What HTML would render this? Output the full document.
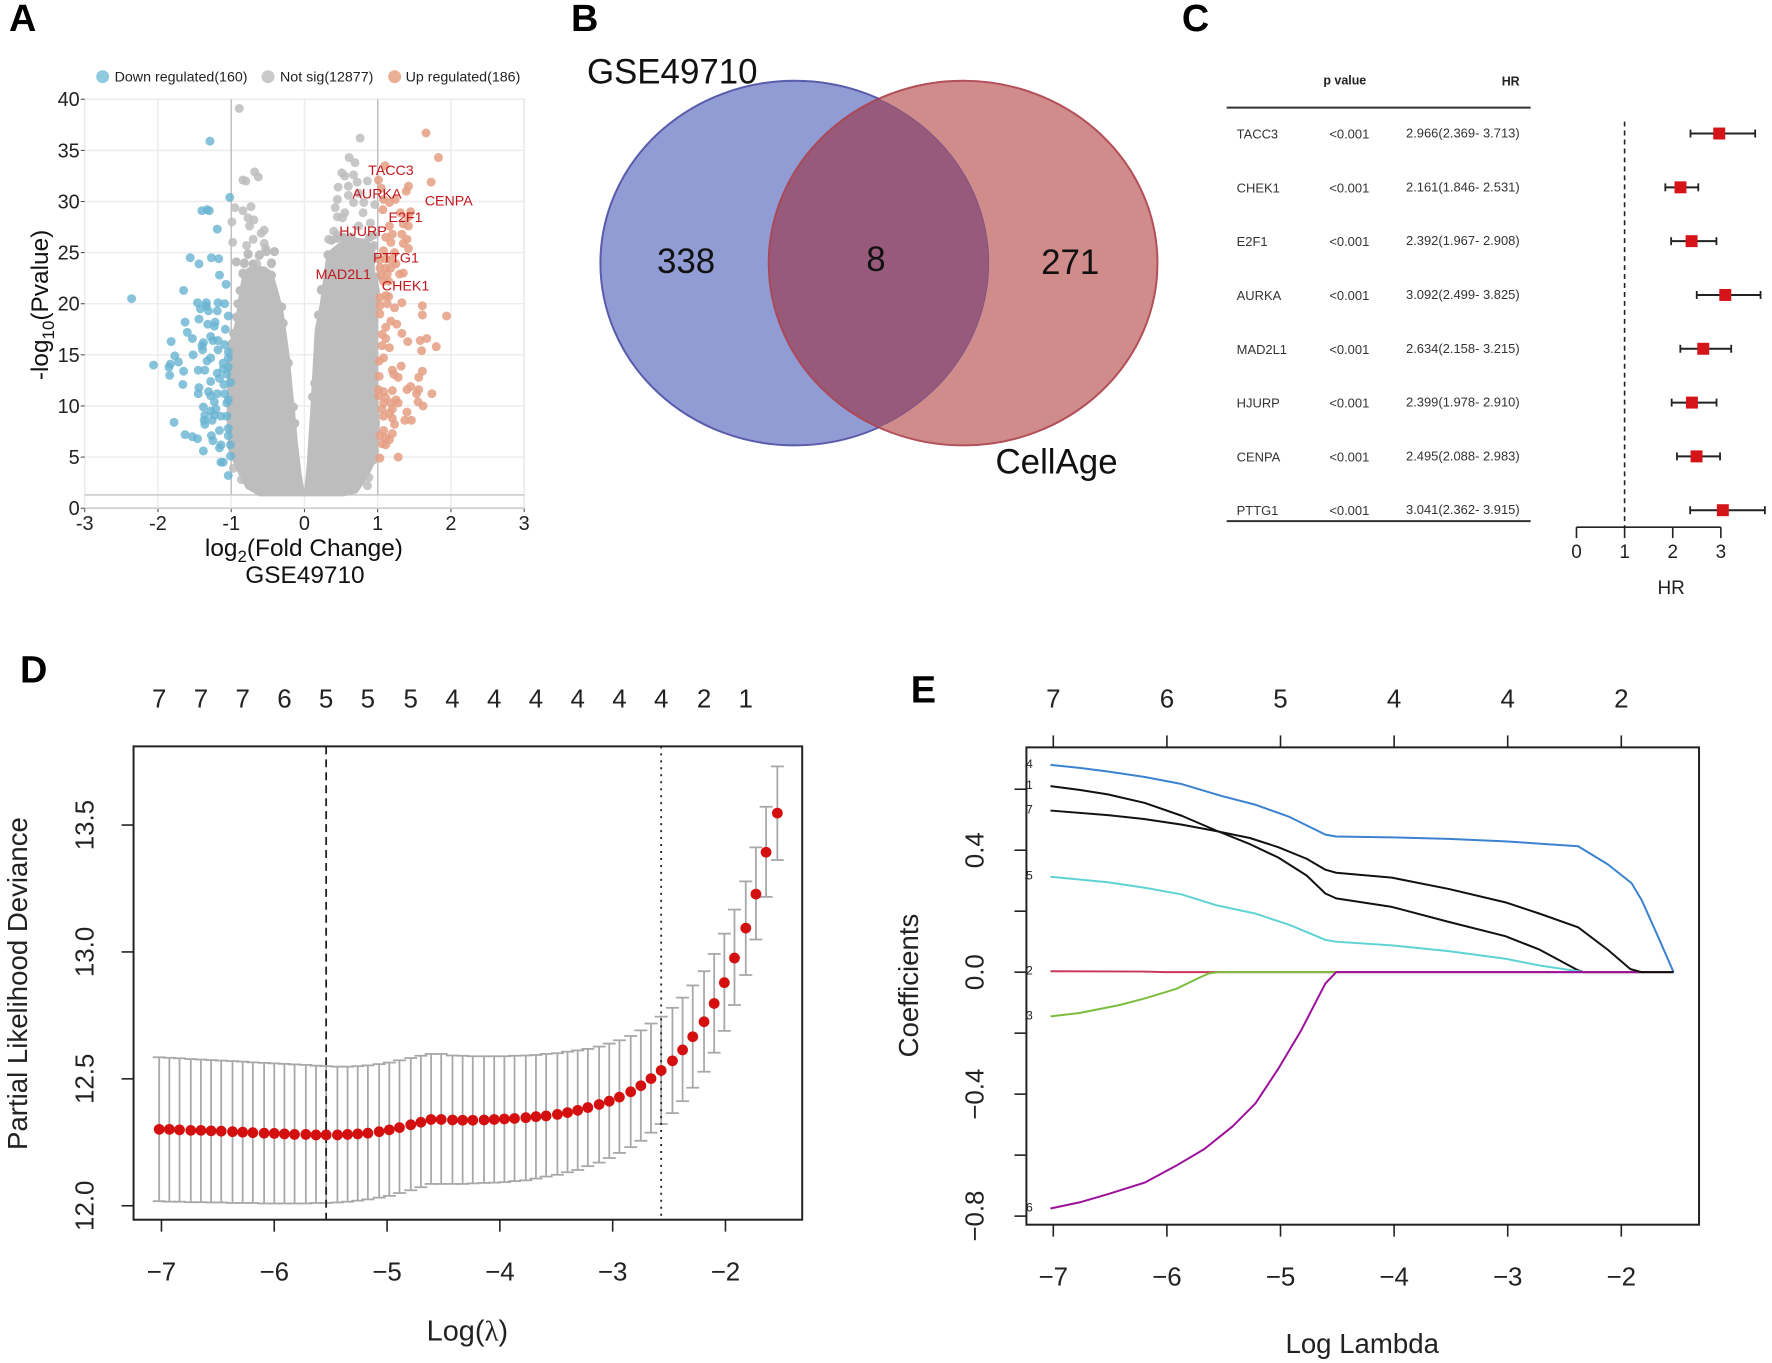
<!DOCTYPE html>
<html lang="en">
<head>
<meta charset="utf-8">
<title>Senescence gene figure</title>
<style>
html,body{margin:0;padding:0;background:#fff;width:1772px;height:1363px;overflow:hidden}
svg{display:block;font-family:"Liberation Sans",sans-serif}
</style>
</head>
<body>
<svg id="fig" xmlns="http://www.w3.org/2000/svg" width="1772" height="1363" viewBox="0 0 1778.2 1367.8">
  <defs>
    <clipPath id="leftClip"><ellipse cx="797.5" cy="264" rx="195" ry="183"/></clipPath>
  </defs>
  <rect width="1800" height="1400" fill="#fff"/>

  <g font-weight="bold" font-size="38" fill="#000">
    <text x="9" y="31">A</text>
    <text x="573" y="31">B</text>
    <text x="1186" y="31">C</text>
    <text x="20" y="685">D</text>
    <text x="914" y="705">E</text>
  </g>

  <g id="panelA">
    <circle cx="103" cy="77" r="6.5" fill="#8fcbe0"/>
    <text x="115" y="82" font-size="14.3" fill="#222">Down regulated(160)</text>
    <circle cx="269" cy="77" r="6.5" fill="#c9c9c9"/>
    <text x="281" y="82" font-size="14.3" fill="#222">Not sig(12877)</text>
    <circle cx="396" cy="77" r="6.5" fill="#eab096"/>
    <text x="407" y="82" font-size="14.3" fill="#222">Up regulated(186)</text>
    <text x="305" y="558" font-size="24.5" text-anchor="middle" fill="#111">log<tspan dy="6" font-size="17">2</tspan><tspan dy="-6">(Fold Change)</tspan></text>
    <text x="306" y="585" font-size="24.5" text-anchor="middle" fill="#111">GSE49710</text>
    <text transform="translate(48,306) rotate(-90)" font-size="24.5" text-anchor="middle" fill="#111">-log<tspan dy="6" font-size="17">10</tspan><tspan dy="-6">(Pvalue)</tspan></text>
  </g>

  <g id="panelB">
    <ellipse cx="797.5" cy="264" rx="195" ry="183" fill="#919cd4" stroke="#5563b8" stroke-width="2"/>
    <ellipse cx="966.5" cy="264" rx="195" ry="183" fill="#d08b8b" stroke="#b24f58" stroke-width="2"/>
    <ellipse cx="966.5" cy="264" rx="195" ry="183" fill="#985a7a" stroke="#a84a5c" stroke-width="2" clip-path="url(#leftClip)"/>
    <ellipse cx="797.5" cy="264" rx="195" ry="183" fill="none" stroke="#6a4a8c" stroke-width="1.5" stroke-opacity=".7" clip-path="url(#leftClip)"/>
    <text x="589" y="84" font-size="35" fill="#111">GSE49710</text>
    <text x="999" y="475" font-size="35" fill="#111">CellAge</text>
    <text x="688.5" y="274" font-size="35" text-anchor="middle" fill="#111">338</text>
    <text x="879" y="272" font-size="35" text-anchor="middle" fill="#111">8</text>
    <text x="1074" y="275" font-size="35" text-anchor="middle" fill="#111">271</text>
  </g>

  <g id="panelC">
    <text x="1328" y="85" font-size="12.5" font-weight="bold" fill="#222">p value</text>
    <text x="1525" y="86" font-size="12.5" font-weight="bold" text-anchor="end" fill="#222">HR</text>
    <line x1="1231" x2="1536" y1="108" y2="108" stroke="#333" stroke-width="2"/>
    <line x1="1231" x2="1536" y1="523" y2="523" stroke="#333" stroke-width="2"/>
    <text x="1677" y="596" font-size="19" text-anchor="middle" fill="#222">HR</text>
  </g>

  <g id="panelD">
    <rect x="134" y="749" width="671" height="475" fill="none" stroke="#222" stroke-width="2"/>
    <text x="469" y="1345" font-size="29" text-anchor="middle" fill="#222">Log(<tspan font-family="'Liberation Serif',serif">λ</tspan>)</text>
    <text transform="translate(27,987) rotate(-90)" font-size="27.7" text-anchor="middle" fill="#222">Partial Likelihood Deviance</text>
  </g>

  <g id="panelE">
    <rect x="1030" y="750" width="675" height="479" fill="none" stroke="#222" stroke-width="2"/>
    <text x="1367" y="1358" font-size="27.7" text-anchor="middle" fill="#222">Log Lambda</text>
    <text transform="translate(921,989) rotate(-90)" font-size="27.7" text-anchor="middle" fill="#222">Coefficients</text>
  </g>
</svg>

<script>
/* ---------- Panel A data ---------- */
const volcanoXTicks = [-3,-2,-1,0,1,2,3];
const volcanoYTicks = [0,5,10,15,20,25,30,35,40];
const pThreshold = 1.3;
const fcThresholds = [-1,1];
const downPoints = [[-2.36,20.5],[-2.06,14.0],[-1.82,16.3],[-1.85,13.8],[-1.83,14.1],[-1.84,13.0],[-1.77,14.9],[-1.72,14.3],[-1.65,13.4],[-1.66,12.1],[-1.65,21.3],[-1.63,18.2],[-1.60,17.2],[-1.53,16.6],[-1.56,24.5],[-1.44,23.9],[-1.27,24.5],[-1.17,24.4],[-1.16,22.8],[-1.07,21.9],[-1.29,35.9],[-1.02,30.4],[-1.40,29.1],[-1.33,29.2],[-1.30,29.1],[-1.19,27.3],[-1.46,20.1],[-1.34,20.1],[-1.34,19.8],[-1.18,20.1],[-1.09,20.0],[-1.42,19.5],[-1.31,19.3],[-1.19,19.3],[-1.44,18.5],[-1.32,18.0],[-1.22,18.2],[-1.23,17.8],[-1.04,18.8],[-1.08,17.5],[-1.28,16.8],[-1.25,16.4],[-1.18,16.4],[-1.38,16.2],[-1.40,15.9],[-1.39,15.5],[-1.52,15.0],[-1.09,16.0],[-1.04,15.3],[-1.18,15.5],[-1.28,14.7],[-1.33,14.4],[-1.36,13.5],[-1.45,13.5],[-1.04,14.7],[-1.11,14.2],[-1.04,13.8],[-1.11,13.6],[-1.19,13.2],[-1.06,13.1],[-1.16,12.7],[-1.28,12.4],[-1.10,12.1],[-1.01,12.3],[-1.44,11.8],[-1.45,11.2],[-1.31,11.4],[-1.28,11.0],[-1.19,11.2],[-1.09,11.2],[-1.04,10.6],[-1.23,10.4],[-1.06,10.3],[-1.38,9.9],[-1.28,9.5],[-1.21,9.7],[-1.36,9.1],[-1.23,9.1],[-1.37,8.6],[-1.36,8.2],[-1.26,8.6],[-1.14,9.0],[-1.06,9.0],[-1.78,8.4],[-1.63,7.2],[-1.53,7.0],[-1.46,6.8],[-1.27,7.1],[-1.25,6.6],[-1.38,5.6],[-1.16,7.6],[-1.04,7.8],[-1.04,7.1],[-1.14,6.2],[-1.16,5.9],[-1.01,6.2],[-1.01,5.1],[-1.14,4.5],[-1.11,4.5],[-1.04,3.2]];
const upPoints = [[1.66,36.7],[1.83,34.3],[1.73,31.9],[1.10,33.5],[1.01,32.1],[1.05,31.3],[1.42,31.5],[1.39,31.0],[1.16,29.9],[1.08,30.2],[1.24,30.2],[1.07,29.2],[1.45,29.0],[1.31,28.9],[1.42,28.5],[1.35,27.8],[1.42,27.6],[1.16,27.6],[1.20,26.8],[1.33,26.8],[1.40,26.3],[1.11,26.5],[1.18,26.0],[1.35,25.9],[1.42,25.4],[1.08,25.2],[1.23,25.0],[1.03,24.3],[1.11,24.4],[1.18,24.3],[1.25,23.9],[1.03,23.5],[1.11,23.5],[1.18,23.5],[1.05,22.8],[1.13,22.9],[1.30,22.9],[1.35,23.0],[1.08,22.2],[1.15,22.2],[1.03,20.6],[1.15,20.7],[1.11,20.8],[1.03,19.8],[1.13,20.0],[1.33,20.1],[1.23,19.6],[1.61,19.8],[1.61,18.9],[1.94,18.8],[1.03,19.0],[1.18,18.3],[1.26,18.0],[1.11,17.7],[1.06,17.0],[1.11,16.6],[1.33,17.1],[1.41,16.3],[1.58,16.4],[1.67,16.6],[1.80,15.8],[1.60,15.4],[1.06,15.9],[1.16,15.7],[1.08,14.7],[1.02,14.4],[1.32,13.9],[1.20,13.5],[1.61,13.4],[1.22,13.1],[1.02,12.9],[1.28,12.8],[1.56,12.8],[1.45,11.9],[1.40,11.6],[1.56,11.6],[1.74,11.2],[1.53,11.2],[1.01,11.6],[1.08,11.4],[1.20,11.5],[1.01,11.0],[1.11,10.8],[1.25,10.6],[1.55,10.4],[1.62,10.0],[1.08,10.3],[1.18,10.3],[1.28,10.3],[1.06,9.7],[1.20,9.7],[1.16,9.3],[1.40,9.4],[1.08,9.0],[1.20,8.8],[1.37,8.6],[1.46,8.6],[1.23,8.2],[1.08,7.6],[1.20,7.3],[1.03,7.1],[1.11,6.9],[1.16,6.7],[1.06,6.3],[1.11,6.2],[1.28,5.0],[1.03,4.9]];
const notSigPoints = [[-.89,39.1],[.76,36.2],[.61,34.3],[.69,33.8],[-.68,32.9],[-.63,32.4],[-.84,32.1],[-.80,32.0],[.51,32.8],[.55,32.5],[.67,32.6],[.86,32.0],[.46,31.4],[.60,31.5],[.72,31.9],[.60,30.6],[.74,30.8],[.45,30.2],[.81,29.9],[.96,29.7],[.67,29.9],[.42,29.4],[.55,28.9],[.80,28.9],[.45,28.5],[.52,28.4],[.90,27.9],[.74,27.6],[.40,27.1],[.45,26.7],[.33,26.3],[.95,25.7],[.94,26.7],[-.95,29.4],[-.84,29.1],[-.73,29.5],[-.99,28.0],[-.77,28.4],[-.69,28.2],[-.75,27.6],[-.55,27.2],[-.59,26.9],[-.70,26.3],[-.98,26.0],[-.79,25.7],[-.55,25.9],[-.53,25.4],[-.41,25.1],[-.77,24.8],[-.62,24.7],[-.93,24.1],[-.45,23.9],[-.82,23.9],[-.65,23.9],[-.84,22.9],[.23,21.3],[.20,18.8],[.88,3.0],[.86,2.2],[-.86,2.8],[-.97,3.9],[-.75,2.2],[.84,4.5],[.94,4.7],[.96,5.6]];
const notSigEdgePoints = [[-.93,24.1],[-.82,24.0],[-.70,23.9],[-.61,24.8],[-.52,25.1],[-.45,24.0],[-.41,25.1],[-.77,24.9],[-.57,23.1],[-.45,22.8],[-.84,23.0],[-.88,21.3],[-.91,20.0],[-.93,18.7],[-.97,17.1],[-.99,16.1],[-.31,19.7],[-.29,18.1],[-.22,14.2],[-.15,9.9],[-.13,8.3],[.23,21.4],[.19,18.9],[.14,12.2],[.11,10.9],[.32,24.8],[.37,26.2],[.44,26.4],[.53,26.5],[.64,26.5],[.89,26.5],[.94,25.6],[.96,24.6],[.98,22.6]];
/* dense not-significant cloud, envelope read in data units */
const cloudLeft = [[-.01,1.3],[-.61,1.3],[-.79,2.1],[-.93,4.1],[-1.02,5.7],[-1.04,8.3],[-1.04,11.6],[-1.03,15.5],[-.93,18.1],[-.88,20.7],[-.85,22.0],[-.82,23.1],[-.72,23.6],[-.54,23.5],[-.45,23.0],[-.38,21.3],[-.31,19.4],[-.27,17.4],[-.22,14.8],[-.18,11.6],[-.15,9.6],[-.11,6.4],[-.06,3.4]];
const cloudRight = [[.01,1.3],[.05,4.1],[.07,6.4],[.10,9.6],[.12,12.2],[.14,14.8],[.16,17.4],[.23,20.0],[.28,22.6],[.32,24.9],[.44,25.6],[.57,26.4],[.85,26.2],[.94,25.2],[.94,23.3],[1.01,21.3],[.98,18.1],[.98,11.6],[1.01,8.3],[.98,5.0],[.85,3.1],[.71,1.6],[.53,1.3]];
const geneLabels = ["TACC3","AURKA","CENPA","E2F1","HJURP","PTTG1","MAD2L1","CHEK1"];
const geneLabelFC = [1.18,.99,1.97,1.38,.80,1.25,.53,1.38];
const geneLabelP = [33.1,30.8,30.1,28.5,27.1,24.5,22.9,21.8];

/* ---------- Panel C data ---------- */
const forestGenes = ["TACC3","CHEK1","E2F1","AURKA","MAD2L1","HJURP","CENPA","PTTG1"];
const forestHR = [2.966,2.161,2.392,3.092,2.634,2.399,2.495,3.041];
const forestLow = [2.369,1.846,1.967,2.499,2.158,1.978,2.088,2.362];
const forestHigh = [3.713,2.531,2.908,3.825,3.215,2.910,2.983,3.915];
const forestPText = ["<0.001","<0.001","<0.001","<0.001","<0.001","<0.001","<0.001","<0.001"];
const forestTicks = [0,1,2,3];

/* ---------- Panel D data ---------- */
const logLambda = [-7.02,-6.93,-6.84,-6.74,-6.65,-6.56,-6.47,-6.37,-6.28,-6.19,-6.09,-6.00,-5.91,-5.82,-5.72,-5.63,-5.54,-5.44,-5.35,-5.26,-5.17,-5.07,-4.98,-4.89,-4.79,-4.70,-4.61,-4.52,-4.42,-4.33,-4.24,-4.14,-4.05,-3.96,-3.87,-3.77,-3.68,-3.59,-3.49,-3.40,-3.31,-3.22,-3.12,-3.03,-2.94,-2.84,-2.75,-2.66,-2.57,-2.47,-2.38,-2.29,-2.19,-2.10,-2.01,-1.92,-1.82,-1.73,-1.64,-1.54];
const cvMean = [12.301,12.301,12.299,12.297,12.297,12.295,12.294,12.292,12.290,12.288,12.286,12.285,12.283,12.281,12.281,12.279,12.279,12.279,12.281,12.283,12.286,12.292,12.299,12.308,12.319,12.329,12.340,12.340,12.338,12.337,12.337,12.338,12.340,12.342,12.344,12.347,12.351,12.354,12.360,12.367,12.376,12.387,12.399,12.412,12.428,12.449,12.473,12.501,12.533,12.571,12.614,12.666,12.725,12.797,12.879,12.976,13.094,13.228,13.393,13.547];
const cvUpper = [12.585,12.583,12.581,12.578,12.576,12.574,12.572,12.570,12.568,12.565,12.563,12.561,12.559,12.557,12.555,12.552,12.550,12.548,12.548,12.550,12.553,12.558,12.564,12.573,12.582,12.591,12.598,12.598,12.592,12.591,12.589,12.589,12.589,12.589,12.591,12.592,12.594,12.598,12.601,12.607,12.612,12.618,12.627,12.639,12.652,12.669,12.691,12.718,12.745,12.780,12.820,12.868,12.924,12.992,13.072,13.167,13.278,13.412,13.572,13.731];
const cvLower = [12.018,12.016,12.016,12.014,12.014,12.013,12.013,12.011,12.011,12.011,12.009,12.009,12.009,12.009,12.009,12.011,12.011,12.013,12.016,12.020,12.025,12.032,12.039,12.050,12.061,12.073,12.086,12.086,12.086,12.086,12.088,12.090,12.091,12.093,12.097,12.100,12.107,12.115,12.122,12.132,12.141,12.156,12.170,12.188,12.208,12.231,12.256,12.288,12.322,12.365,12.412,12.465,12.528,12.603,12.689,12.791,12.909,13.049,13.217,13.362];
const cvXTicks = [-7,-6,-5,-4,-3,-2];
const cvYTicks = [12.0,12.5,13.0,13.5];
const cvTopLambda = [-7.02,-6.65,-6.28,-5.91,-5.54,-5.17,-4.79,-4.42,-4.05,-3.68,-3.31,-2.94,-2.57,-2.19,-1.82];
const cvTopCounts = [7,7,7,6,5,5,5,4,4,4,4,4,4,2,1];
const lambdaMin = -5.54;
const lambdaOneSE = -2.57;

/* ---------- Panel E data ---------- */
const coefXTicks = [-7,-6,-5,-4,-3,-2];
const coefTopCounts = [7,6,5,4,4,2];
const coefYTicks = [0.6,0.4,0.2,0.0,-0.2,-0.4,-0.6,-0.8];
const coefYLabels = [null,"0.4",null,"0.0",null,"−0.4",null,"−0.8"];
const coef1X = [-7.025,-6.77,-6.52,-6.195,-5.87,-5.57,-5.27,-5.02,-4.77,-4.605,-4.51,-4.02,-3.52,-3.02,-2.72,-2.38,-2.33,-1.54];
const coef1Y = [.610,.598,.583,.555,.513,.465,.420,.376,.317,.258,.242,.214,.165,.118,.074,.006,0,0];
const coef2X = [-7.025,-6.195,-6.02,-1.54];
const coef2Y = [.003,.002,0,0];
const coef3X = [-7.025,-6.77,-6.42,-6.195,-5.92,-5.72,-5.63,-5.545,-4.51];
const coef3Y = [-.145,-.134,-.108,-.086,-.055,-.019,-.004,0,0];
const coef4X = [-7.025,-6.77,-6.52,-6.195,-5.87,-5.52,-5.22,-4.92,-4.605,-4.51,-4.02,-3.52,-3.02,-2.38,-2.12,-1.91,-1.82,-1.67,-1.54];
const coef4Y = [.680,.670,.658,.640,.617,.578,.549,.509,.451,.445,.442,.437,.429,.413,.354,.292,.236,.111,0];
const coef5X = [-7.025,-6.52,-6.195,-5.87,-5.57,-5.22,-4.92,-4.605,-4.51,-4.02,-3.52,-3.02,-2.72,-2.38,-2.32];
const coef5Y = [.313,.295,.277,.255,.220,.192,.155,.106,.100,.088,.069,.044,.022,.003,0];
const coef6X = [-7.025,-6.77,-6.52,-6.195,-5.92,-5.67,-5.42,-5.22,-5.02,-4.82,-4.605,-4.51,-1.82];
const coef6Y = [-.775,-.755,-.728,-.690,-.635,-.580,-.505,-.430,-.317,-.192,-.037,0,0];
const coef7X = [-7.025,-6.52,-6.195,-5.87,-5.57,-5.27,-5.02,-4.77,-4.605,-4.51,-4.02,-3.52,-3.02,-2.72,-2.38,-2.12,-1.92,-1.82,-1.54];
const coef7Y = [.530,.515,.502,.484,.463,.440,.410,.372,.336,.326,.310,.273,.229,.192,.147,.074,.010,0,0];

/* ---------- helpers & axis functions ---------- */
const NS = 'http://www.w3.org/2000/svg';
function mk(parent, tag, props) {
  const n = document.createElementNS(NS, tag);
  for (const k in props) n.setAttribute(k, props[k]);
  parent.appendChild(n);
  return n;
}
function label(parent, x, y, s, size, fill, anchor) {
  const n = mk(parent, 'text', {x:x, y:y, 'font-size':size, fill:fill, 'text-anchor':anchor || 'middle'});
  n.textContent = s;
  return n;
}
const xA = v => 305.5 + v * 73.5;
const yA = v => 510 - v * 10.26;
const xC = v => 1582 + v * 48.3;
const rowC = i => 134 + i * 54;
const xD = v => 162 + (v + 7) * 113.2;
const yD = v => 1210 - (v - 12) * 254.7;
const xE = v => 1057 + (v + 7) * 114;
const yE = v => 975.6 - v * 306;
const fmtMinus = v => String(v).replace('-', '−');
const pairsToPoints = (arr, fx, fy) => arr.map(p => fx(p[0]) + ',' + fy(p[1])).join(' ');

/* ---------- Panel A ---------- */
const gA = document.getElementById('panelA');
const plotA = mk(gA, 'g', {});


const frameA = mk(plotA, 'rect', {x:xA(-3), y:yA(40), width:xA(3)-xA(-3), height:yA(0)-yA(40), fill:'#fff', stroke:'#dcdcdc', 'stroke-width':1.6});


volcanoXTicks.forEach(t => {
  const g = mk(plotA, 'line', {x1:xA(t), x2:xA(t), y1:yA(40), y2:yA(0), stroke:'#ececec', 'stroke-width':1.4});
  
  
  const k = mk(plotA, 'line', {x1:xA(t), x2:xA(t), y1:yA(0), y2:yA(0)+4, stroke:'#444', 'stroke-width':1});
  
  
  const l = label(plotA, xA(t), yA(0)+22, t, 20, '#222');
  
  
});
volcanoYTicks.forEach(t => {
  const g = mk(plotA, 'line', {x1:xA(-3), x2:xA(3), y1:yA(t), y2:yA(t), stroke:'#ececec', 'stroke-width':1.4});
  
  
  const k = mk(plotA, 'line', {x1:xA(-3)-4, x2:xA(-3), y1:yA(t), y2:yA(t), stroke:'#444', 'stroke-width':1});
  
  
  const l = label(plotA, xA(-3)-5, yA(t)+7, t, 20, '#222', 'end');
  
  
});
const bottomA = mk(plotA, 'line', {x1:xA(-3), x2:xA(3), y1:yA(0), y2:yA(0), stroke:'#cfcfcf', 'stroke-width':1.6});


fcThresholds.forEach(t => {
  const v = mk(plotA, 'line', {x1:xA(t), x2:xA(t), y1:yA(40), y2:yA(pThreshold), stroke:'#bdbdbd', 'stroke-width':1.4});
  
  
});
const hLine = mk(plotA, 'line', {x1:xA(-3), x2:xA(3), y1:yA(pThreshold), y2:yA(pThreshold), stroke:'#c4c4c4', 'stroke-width':1.4});


[cloudLeft, cloudRight].forEach(arr => {
  const c = mk(plotA, 'polygon', {points:pairsToPoints(arr, xA, yA), fill:'#bdbdbd', stroke:'#bdbdbd', 'stroke-width':3, 'stroke-linejoin':'round'});
  
  
});
notSigEdgePoints.forEach(p => {
  const c = mk(plotA, 'circle', {cx:xA(p[0]), cy:yA(p[1]), r:4.5, fill:'#bdbdbd'});
  
  
});
notSigPoints.forEach(p => {
  const c = mk(plotA, 'circle', {cx:xA(p[0]), cy:yA(p[1]), r:4.5, fill:'#bdbdbd', 'fill-opacity':.85});
  
  
});
downPoints.forEach(p => {
  const c = mk(plotA, 'circle', {cx:xA(p[0]), cy:yA(p[1]), r:4.5, fill:'#68b4d2', 'fill-opacity':.8});
  
  
});
upPoints.forEach(p => {
  const c = mk(plotA, 'circle', {cx:xA(p[0]), cy:yA(p[1]), r:4.5, fill:'#e59f84', 'fill-opacity':.85});
  
  
});
geneLabels.forEach((s, i) => {
  const l = label(plotA, xA(geneLabelFC[i]), yA(geneLabelP[i])+5, s, 14.3, '#c3161c');
  
  
});

/* ---------- Panel C ---------- */
const gC = document.getElementById('panelC');
forestGenes.forEach((gene, i) => {
  const y = rowC(i);
  const a = label(gC, 1241, y+5, gene, 13, '#333', 'start');
  
  
  const b = label(gC, 1334, y+5, forestPText[i], 13, '#333', 'start');
  
  
  const c = label(gC, 1525, y+4, forestHR[i].toFixed(3)+'('+forestLow[i].toFixed(3)+'- '+forestHigh[i].toFixed(3)+')', 13, '#333', 'end');
  
  
  const ci = mk(gC, 'line', {x1:xC(forestLow[i]), x2:xC(forestHigh[i]), y1:y, y2:y, stroke:'#222', 'stroke-width':2});
  
  
  const c1 = mk(gC, 'line', {x1:xC(forestLow[i]), x2:xC(forestLow[i]), y1:y-4, y2:y+4, stroke:'#222', 'stroke-width':1.8});
  
  
  const c2 = mk(gC, 'line', {x1:xC(forestHigh[i]), x2:xC(forestHigh[i]), y1:y-4, y2:y+4, stroke:'#222', 'stroke-width':1.8});
  
  
  const sq = mk(gC, 'rect', {x:xC(forestHR[i])-6, y:y-6, width:12, height:12, fill:'#d5141a'});
  
  
});
const refLine = mk(gC, 'line', {x1:xC(1), x2:xC(1), y1:122, y2:529, stroke:'#222', 'stroke-width':1.6, 'stroke-dasharray':'5 4'});


const axisC = mk(gC, 'line', {x1:xC(0), x2:xC(forestTicks[forestTicks.length-1]), y1:529, y2:529, stroke:'#222', 'stroke-width':1.6});


forestTicks.forEach(t => {
  const k = mk(gC, 'line', {x1:xC(t), x2:xC(t), y1:529, y2:540, stroke:'#222', 'stroke-width':1.6});
  
  
  const l = label(gC, xC(t), 560, t, 19, '#222');
  
  
});

/* ---------- Panel D ---------- */
const gD = document.getElementById('panelD');
cvXTicks.forEach(t => {
  const k = mk(gD, 'line', {x1:xD(t), x2:xD(t), y1:1224, y2:1236, stroke:'#222', 'stroke-width':1.6});
  
  
  const l = label(gD, xD(t), 1285, fmtMinus(t), 26, '#222');
  
  
});
cvYTicks.forEach(t => {
  const k = mk(gD, 'line', {x1:122, x2:134, y1:yD(t), y2:yD(t), stroke:'#222', 'stroke-width':1.6});
  
  
  const l = mk(gD, 'text', {transform:'translate(94,'+yD(t)+') rotate(-90)', 'font-size':26, fill:'#222', 'text-anchor':'middle'});
  l.textContent = t.toFixed(1);
  
  
});
cvTopLambda.forEach((v, i) => {
  const l = label(gD, xD(v), 710, cvTopCounts[i], 26, '#222');
  
  
});
logLambda.forEach((v, i) => {
  const e = mk(gD, 'line', {x1:xD(v), x2:xD(v), y1:yD(cvLower[i]), y2:yD(cvUpper[i]), stroke:'#a8a8a8', 'stroke-width':1.8});
  
  
  const u = mk(gD, 'line', {x1:xD(v)-6.5, x2:xD(v)+6.5, y1:yD(cvUpper[i]), y2:yD(cvUpper[i]), stroke:'#a8a8a8', 'stroke-width':1.8});
  
  
  const d = mk(gD, 'line', {x1:xD(v)-6.5, x2:xD(v)+6.5, y1:yD(cvLower[i]), y2:yD(cvLower[i]), stroke:'#a8a8a8', 'stroke-width':1.8});
  
  
});
const minLine = mk(gD, 'line', {x1:xD(lambdaMin), x2:xD(lambdaMin), y1:749, y2:1224, stroke:'#222', 'stroke-width':1.8, 'stroke-dasharray':'8 5'});


const seLine = mk(gD, 'line', {x1:xD(lambdaOneSE), x2:xD(lambdaOneSE), y1:749, y2:1224, stroke:'#222', 'stroke-width':1.8, 'stroke-dasharray':'2 5'});


logLambda.forEach((v, i) => {
  const c = mk(gD, 'circle', {cx:xD(v), cy:yD(cvMean[i]), r:5.4, fill:'#d40f0f'});
  
  
});

/* ---------- Panel E ---------- */
const gE = document.getElementById('panelE');
coefXTicks.forEach((t, i) => {
  const k = mk(gE, 'line', {x1:xE(t), x2:xE(t), y1:1229, y2:1241, stroke:'#222', 'stroke-width':1.6});
  
  
  const l = label(gE, xE(t), 1290, fmtMinus(t), 26, '#222');
  
  
  const kt = mk(gE, 'line', {x1:xE(t), x2:xE(t), y1:738, y2:750, stroke:'#222', 'stroke-width':1.6});
  
  
  const lt = label(gE, xE(t), 710, coefTopCounts[i], 26, '#222');
  
  
});
coefYTicks.forEach((t, i) => {
  const k = mk(gE, 'line', {x1:1018, x2:1030, y1:yE(t), y2:yE(t), stroke:'#222', 'stroke-width':1.6});
  
  
  if (coefYLabels[i]) {
    const l = mk(gE, 'text', {transform:'translate(987,'+yE(t)+') rotate(-90)', 'font-size':26, fill:'#222', 'text-anchor':'middle'});
    l.textContent = coefYLabels[i];
    
    
  }
});
const coefSeries = [
  {id:'1', xs:coef1X, ys:coef1Y, color:'#111111'},
  {id:'2', xs:coef2X, ys:coef2Y, color:'#c9385a'},
  {id:'3', xs:coef3X, ys:coef3Y, color:'#7cbd3e'},
  {id:'4', xs:coef4X, ys:coef4Y, color:'#3b82d0'},
  {id:'5', xs:coef5X, ys:coef5Y, color:'#5fd3d3'},
  {id:'6', xs:coef6X, ys:coef6Y, color:'#9c109c'},
  {id:'7', xs:coef7X, ys:coef7Y, color:'#111111'}
];
coefSeries.forEach(s => {
  const p = mk(gE, 'polyline', {points:s.xs.map((x, i) => xE(x)+','+yE(s.ys[i])).join(' '), fill:'none', stroke:s.color, 'stroke-width':2, 'stroke-linejoin':'round'});
  
  
  const l = label(gE, 1033, yE(s.ys[0])+3, s.id, 12, '#222');
  
  
});
</script>
</body>
</html>
